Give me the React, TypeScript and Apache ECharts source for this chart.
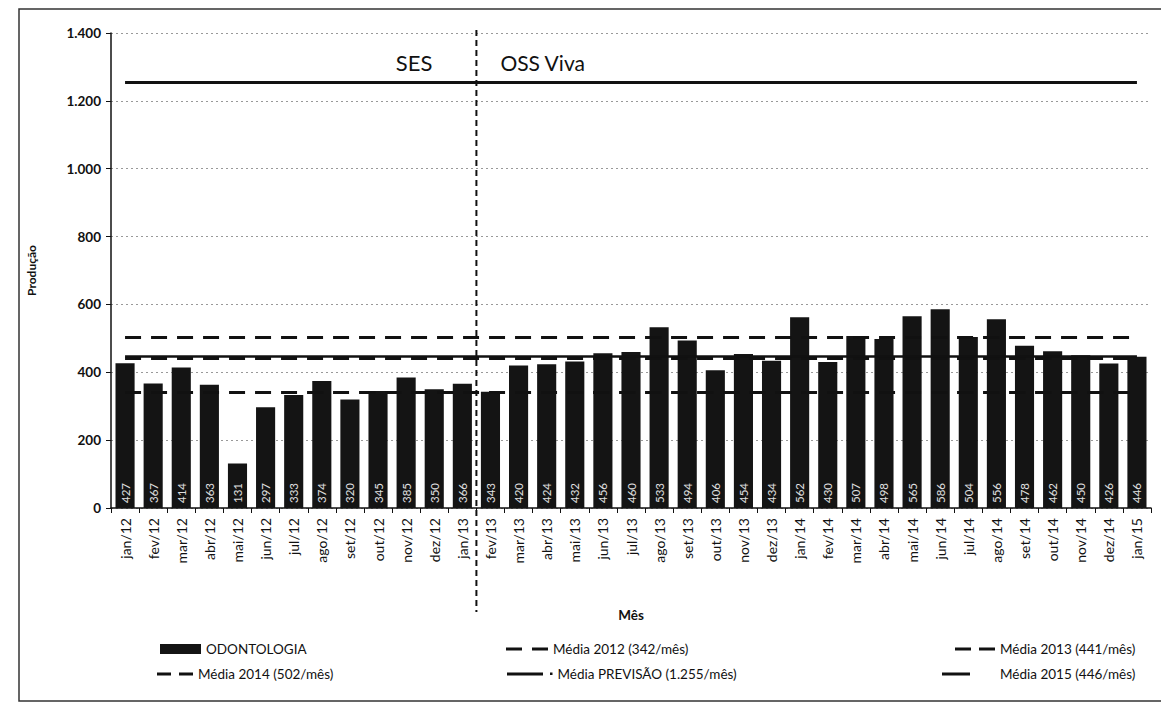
import React, { useEffect, useRef } from "react";
import * as echarts from "echarts";

const CATEGORIES = [
  "jan/12", "fev/12", "mar/12", "abr/12", "mai/12", "jun/12", "jul/12", "ago/12", "set/12", "out/12", "nov/12", "dez/12",
  "jan/13", "fev/13", "mar/13", "abr/13", "mai/13", "jun/13", "jul/13", "ago/13", "set/13", "out/13", "nov/13", "dez/13",
  "jan/14", "fev/14", "mar/14", "abr/14", "mai/14", "jun/14", "jul/14", "ago/14", "set/14", "out/14", "nov/14", "dez/14",
  "jan/15",
];

const ODONTOLOGIA = [
  427, 367, 414, 363, 131, 297, 333, 374, 320, 345, 385, 350,
  366, 343, 420, 424, 432, 456, 460, 533, 494, 406, 454, 434,
  562, 430, 507, 498, 565, 586, 504, 556, 478, 462, 450, 426,
  446,
];

const MEDIA_2012 = 342;
const MEDIA_2013 = 441;
const MEDIA_2014 = 502;
const MEDIA_PREVISAO = 1255;
const MEDIA_2015 = 446;

const NAME_BARS = "ODONTOLOGIA";
const NAME_2012 = "Média 2012 (342/mês)";
const NAME_2013 = "Média 2013 (441/mês)";
const NAME_2014 = "Média 2014 (502/mês)";
const NAME_PREV = "Média PREVISÃO (1.255/mês)";
const NAME_2015 = "Média 2015 (446/mês)";

const Y_MIN = 0;
const Y_MAX = 1400;
const Y_INTERVAL = 200;

const SPLIT_BEFORE = "jan/13";
const SPLIT_AFTER = "fev/13";
const LEFT_LABEL = "SES";
const RIGHT_LABEL = "OSS Viva";

const FONT = "Lato, 'Open Sans', sans-serif";

function fmtThousands(v: number): string {
  return String(v).replace(/\B(?=(\d{3})+(?!\d))/g, ".");
}

function meanLine(name: string, value: number, lineStyle: any) {
  return {
    name,
    type: "line",
    data: [],
    symbol: "none",
    lineStyle,
    itemStyle: { color: "#111" },
    z: 5,
    markLine: {
      silent: true,
      symbol: ["none", "none"],
      label: { show: false },
      lineStyle,
      data: [
        [
          { coord: [CATEGORIES[0], value] },
          { coord: [CATEGORIES[CATEGORIES.length - 1], value] },
        ],
      ],
    },
  };
}

export default function App() {
  const ref = useRef<HTMLDivElement>(null);

  useEffect(() => {
    if (!ref.current) return;
    const chart = echarts.init(ref.current, null, { renderer: "svg" });

    const dashed = { color: "#111", width: 3, type: [16, 10] as any };
    const legendText = { fontFamily: FONT, fontSize: 13.5, color: "#111" };
    const row1 = 642;
    const row2 = 667;
    const tiny = " M0,0H0.01V0.01H0Z";

    const lg = (name: string, left: number, top: number, icon: string, w: number, h: number) => ({
      data: [{ name, icon }],
      left,
      top,
      padding: 0,
      itemWidth: w,
      itemHeight: h,
      selectedMode: false,
      textStyle: legendText,
    });

    const option: any = {
      animation: false,
      backgroundColor: "#fff",
      textStyle: { fontFamily: FONT },
      grid: { left: 111, right: 10, top: 33, bottom: 199, containLabel: false },
      legend: [
        lg(NAME_BARS, 160, row1, "rect", 41, 10),
        lg(NAME_2014, 157, row2, "path://M0,0H14V3H0Z M22,0H36V3H22Z", 36, 3),
        lg(NAME_2012, 506, row1, "path://M0,0H16V3H0Z M26,0H42V3H26Z", 42, 3),
        lg(NAME_PREV, 507, row2, "path://M0,0H36V3H0Z M43,0H45.5V2.5H43Z", 45.5, 3),
        lg(NAME_2013, 955, row1, "path://M0,0H16V3H0Z M24,0H40V3H24Z", 40, 3),
        lg(NAME_2015, 942, row2, "path://M0,0H28V3H0Z M53,0H53.01V0.01H53Z" + tiny, 53, 3),
      ],
      xAxis: {
        type: "category",
        data: CATEGORIES,
        boundaryGap: true,
        name: "Mês",
        nameLocation: "middle",
        nameGap: 100,
        nameTextStyle: { fontFamily: FONT, fontSize: 13.5, fontWeight: "bold", color: "#111" },
        axisLine: { lineStyle: { color: "#111", width: 1.5 } },
        axisTick: { show: true, alignWithLabel: false, length: 5, lineStyle: { color: "#111" } },
        axisLabel: { rotate: 90, fontFamily: FONT, fontSize: 14, color: "#111", margin: 10, interval: 0 },
        splitLine: { show: false },
      },
      yAxis: {
        type: "value",
        min: Y_MIN,
        max: Y_MAX,
        interval: Y_INTERVAL,
        name: "Produção",
        nameLocation: "middle",
        nameGap: 74,
        nameRotate: 90,
        nameTextStyle: { fontFamily: FONT, fontSize: 12, fontWeight: "bold", color: "#111" },
        axisLine: { show: true, lineStyle: { color: "#111", width: 1.5 } },
        axisTick: { show: true, length: 5, lineStyle: { color: "#111" } },
        axisLabel: { fontFamily: FONT, fontSize: 13.5, fontWeight: "bold", color: "#111", margin: 10, formatter: (v: number) => fmtThousands(v) },
        splitLine: { show: true, lineStyle: { color: "#999", type: [2, 3], width: 1 } },
      },
      series: [
        {
          name: NAME_BARS,
          type: "bar",
          data: ODONTOLOGIA,
          barCategoryGap: "32%",
          itemStyle: { color: "#141414" },
          z: 2,
          label: {
            show: true,
            position: "insideBottom",
            rotate: 90,
            align: "left",
            verticalAlign: "middle",
            distance: 5,
            color: "#e0e0e0",
            fontFamily: FONT,
            fontSize: 11.5,
          },
        },
        meanLine(NAME_2012, MEDIA_2012, dashed),
        meanLine(NAME_2013, MEDIA_2013, dashed),
        meanLine(NAME_2014, MEDIA_2014, dashed),
        meanLine(NAME_PREV, MEDIA_PREVISAO, { color: "#111", width: 3, type: "solid" }),
        meanLine(NAME_2015, MEDIA_2015, { color: "#111", width: 2.5, type: "solid" }),
      ],
    };

    chart.setOption(option);

    const xa = chart.convertToPixel({ xAxisIndex: 0 }, SPLIT_BEFORE) as number;
    const xb = chart.convertToPixel({ xAxisIndex: 0 }, SPLIT_AFTER) as number;
    const splitX = (xa + xb) / 2;
    const yTop = chart.convertToPixel({ yAxisIndex: 0 }, Y_MAX) as number;

    chart.setOption({
      graphic: [
        {
          type: "rect",
          shape: { x: 19, y: 9, width: 1160, height: 692 },
          style: { fill: "none", stroke: "#333", lineWidth: 1.5 },
          silent: true,
        },
        {
          type: "line",
          shape: { x1: splitX, y1: yTop - 3, x2: splitX, y2: 612 },
          style: { stroke: "#111", lineWidth: 2, lineDash: [6, 4] },
          silent: true,
          z: 10,
        },
        {
          type: "text",
          x: splitX - 44,
          y: 62,
          style: { text: LEFT_LABEL, fontFamily: FONT, fontSize: 22, fill: "#111", align: "right", verticalAlign: "middle" },
          silent: true,
        },
        {
          type: "text",
          x: splitX + 24,
          y: 62,
          style: { text: RIGHT_LABEL, fontFamily: FONT, fontSize: 21, fill: "#111", align: "left", verticalAlign: "middle" },
          silent: true,
        },
      ],
    });

    return () => {
      chart.dispose();
    };
  }, []);

  return (
    <div
      ref={ref}
      style={{ position: "absolute", left: 0, top: 0, width: 1161, height: 707, background: "#fff" }}
    />
  );
}
